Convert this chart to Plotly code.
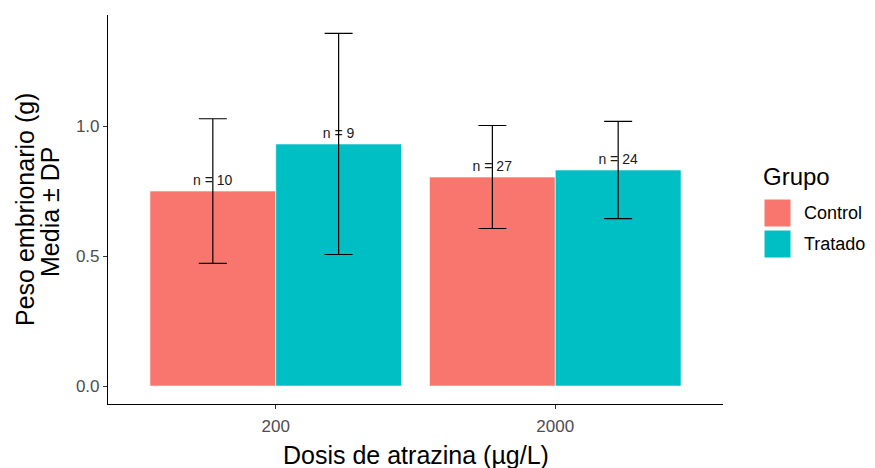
import plotly.graph_objects as go

dosis = ["200", "2000"]
grupos = ["Control", "Tratado"]
media = {"Control": [0.75, 0.804], "Tratado": [0.931, 0.831]}
dp = {"Control": [0.278, 0.198], "Tratado": [0.425, 0.187]}
n_vals = {"Control": [10, 27], "Tratado": [9, 24]}
colores = {"Control": "#F8766D", "Tratado": "#00BFC4"}
y_ticks = [0, 0.5, 1.0]
y_ticktext = ["0.0", "0.5", "1.0"]

FONT = "Liberation Sans, Arial, sans-serif"

# page geometry (body has 8px margin)
PL, PR, PT, PB = 108, 723, 15, 404
PW, PH = PR - PL, PB - PT


def px(X):
    return (X - PL) / PW


def py(Y):
    return (PB - Y) / PH


fig = go.Figure()
for g in grupos:
    fig.add_trace(go.Bar(
        x=dosis, y=media[g], name=g,
        marker=dict(color=colores[g], line=dict(color="white", width=0.6)),
        error_y=dict(type="data", array=dp[g], visible=True, color="black",
                     thickness=1.2, width=14),
        text=[f"n = {n}" for n in n_vals[g]],
        textposition="outside",
        textfont=dict(family=FONT, size=14, color="#1a1a1a"),
        cliponaxis=False,
        showlegend=False,
    ))

fig.update_layout(
    width=875 - 8, height=468 - 8,
    margin=dict(l=PL - 8, r=875 - PR, t=PT - 8, b=468 - PB),
    plot_bgcolor="white", paper_bgcolor="white",
    barmode="group", bargap=0.1, bargroupgap=0,
    uniformtext=dict(mode=False),
    font=dict(family=FONT),
    xaxis=dict(
        type="category", range=[-0.6, 1.6],
        showline=True, linecolor="black", linewidth=1.1,
        ticks="outside", ticklen=4, tickcolor="#333333",
        ticklabelstandoff=3,
        tickfont=dict(family=FONT, size=17, color="#4D4D4D"),
        showgrid=False, zeroline=False,
    ),
    yaxis=dict(
        range=[-0.069, 1.427],
        tickvals=y_ticks, ticktext=y_ticktext,
        showline=True, linecolor="black", linewidth=1.1,
        ticks="outside", ticklen=4, tickcolor="#333333",
        tickfont=dict(family=FONT, size=17, color="#4D4D4D"),
        showgrid=False, zeroline=False,
    ),
)

# axis titles
fig.add_annotation(xref="paper", yref="paper", x=0.5, y=py(455),
                   text="Dosis de atrazina (µg/L)", showarrow=False,
                   xanchor="center", yanchor="middle",
                   font=dict(family=FONT, size=25, color="black"))
fig.add_annotation(xref="paper", yref="paper", x=px(25), y=py(210),
                   text="Peso embrionario (g)", showarrow=False, textangle=-90,
                   xanchor="center", yanchor="middle",
                   font=dict(family=FONT, size=25, color="black"))
fig.add_annotation(xref="paper", yref="paper", x=px(50), y=py(212),
                   text="Media ± DP", showarrow=False, textangle=-90,
                   xanchor="center", yanchor="middle",
                   font=dict(family=FONT, size=25, color="black"))

# legend drawn manually (ggplot-style large keys)
fig.add_annotation(xref="paper", yref="paper", x=px(761), y=py(176),
                   text="Grupo", showarrow=False, xanchor="left", yanchor="middle",
                   font=dict(family=FONT, size=24, color="black"))
key_tops = [199, 230]
for g, top in zip(grupos, key_tops):
    fig.add_shape(type="rect", xref="paper", yref="paper",
                  x0=px(764), x1=px(791),
                  y0=py(top + 28), y1=py(top),
                  fillcolor=colores[g], line=dict(color="white", width=1))
    fig.add_annotation(xref="paper", yref="paper", x=px(802), y=py(top + 14),
                       text=g, showarrow=False, xanchor="left", yanchor="middle",
                       font=dict(family=FONT, size=18, color="black"))

fig.write_html("out.html")
